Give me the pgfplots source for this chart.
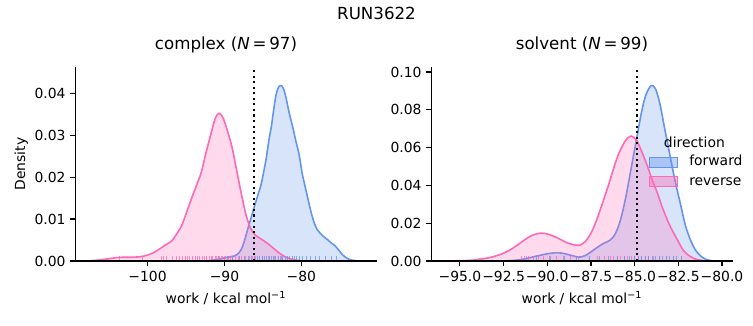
\documentclass[border=0pt]{standalone}
\usepackage{fontspec}
\setmainfont{DejaVu Sans}
\usepackage{pgfplots}
\pgfplotsset{compat=1.18}
\definecolor{fwd}{HTML}{6495ED}
\definecolor{rev}{HTML}{FF69B4}
\pgfplotsset{
  myaxis/.style={
    scale only axis, width=217pt, height=139.5pt,
    axis x line*=bottom, axis y line*=left,
    axis line style={-, line width=0.8pt},
    every tick/.style={black, line width=0.8pt},
    major tick length=3.5pt, tick align=outside,
    axis on top,
    ymin=0,
    font=\fontsize{10}{12}\selectfont,
    yticklabel style={/pgf/number format/fixed, /pgf/number format/fixed zerofill, /pgf/number format/precision=2, /pgf/number format/assume math mode=true},
    scaled y ticks=false,
    xlabel={work / kcal mol\textsuperscript{−1}},
    xlabel style={at={(axis description cs:0.5,-0.222)}, anchor=base},
    title style={at={(axis description cs:0.5,1)}, anchor=base, yshift=6.5pt, font=\fontsize{12}{14}\selectfont},
    clip=true,
  },
  kde/.style={smooth, tension=0.5, line width=1.15pt, draw=#1, fill=#1, fill opacity=0.25, draw opacity=1},
  rug/.style={ycomb, mark=none, draw=#1, line width=0.7pt, opacity=0.75},
}
\begin{document}
\begin{tikzpicture}
\useasboundingbox (0,0) rectangle (542.16pt,234pt);
\node[font=\fontsize{12}{14}\selectfont] at (271.08pt,224.6pt) {RUN3622};

% ---------------- complex ----------------
\begin{axis}[myaxis, at={(54.2pt,46.1pt)}, anchor=south west,
  xmin=-109.4, xmax=-70.2, ymax=0.0462,
  xtick={-100,-90,-80}, xticklabels={−100,−90,−80},
  ytick={0,0.01,0.02,0.03,0.04},
  ylabel={Density},
  ylabel style={at={(axis description cs:-0.179,0.5)}, anchor=center},
  title={complex (\textit{N}\,=\,97)}]
\addplot[kde=fwd] coordinates {
(-92.5,0) (-91.5,0.0002) (-90.5,0.0005) (-89.6,0.0009) (-88.7,0.0012) (-88.2,0.0018)
(-87.8,0.0028) (-87.4,0.0048) (-87.0,0.0074) (-86.5,0.0105) (-86.1,0.013) (-85.6,0.016)
(-85.2,0.0185) (-84.6,0.0241) (-84.2,0.029) (-83.9,0.032) (-83.6,0.036) (-83.3,0.0395)
(-82.95,0.0415) (-82.6,0.0418) (-82.3,0.041) (-82.0,0.039) (-81.6,0.0355) (-81.1,0.0318)
(-80.7,0.0285) (-80.3,0.0255) (-79.9,0.021) (-79.6,0.0185) (-79.1,0.0145) (-78.7,0.0114)
(-78.3,0.009) (-77.9,0.0074) (-77.2,0.006) (-76.6,0.0051) (-76.1,0.0043) (-75.6,0.0036)
(-75.1,0.0025) (-74.6,0.0014) (-74.0,0.0006) (-73.4,0.0002) (-72.6,0)
} \closedcycle;
\addplot[kde=rev] coordinates {
(-107.8,0) (-106.5,0.0002) (-105.2,0.0005) (-104,0.0008) (-103,0.0009) (-102,0.0009)
(-101,0.001) (-100.2,0.0013) (-99.3,0.0019) (-98.5,0.0028) (-97.6,0.0039) (-96.9,0.0047)
(-96.3,0.0062) (-95.6,0.0083) (-95.0,0.0112) (-94.3,0.0148) (-93.6,0.0182) (-93.0,0.0212)
(-92.4,0.0258) (-91.8,0.030) (-91.2,0.0340) (-90.7,0.0352) (-90.2,0.0342) (-89.6,0.031)
(-89.0,0.027) (-88.4,0.0215) (-87.8,0.016) (-87.2,0.011) (-86.6,0.0078) (-86.0,0.0062)
(-85.2,0.0052) (-84.4,0.0042) (-83.6,0.0030) (-82.8,0.0018) (-82.0,0.0009) (-81.0,0.0003)
(-79.8,0)
} \closedcycle;
\addplot[rug=rev] coordinates {
(-103.6,0.00115) (-100.6,0.00115) (-98.2,0.00115) (-97.9,0.00115) (-97.5,0.00115) (-96.8,0.00115)
(-96.3,0.00115) (-95.9,0.00115) (-95.5,0.00115) (-95.1,0.00115) (-94.8,0.00115) (-94.5,0.00115)
(-94.1,0.00115) (-93.8,0.00115) (-93.5,0.00115) (-93.2,0.00115) (-92.9,0.00115) (-92.6,0.00115)
(-92.3,0.00115) (-92.0,0.00115) (-91.7,0.00115) (-91.5,0.00115) (-91.2,0.00115) (-91.0,0.00115)
(-90.8,0.00115) (-90.6,0.00115) (-90.4,0.00115) (-90.2,0.00115) (-90.0,0.00115) (-89.8,0.00115)
(-89.5,0.00115) (-89.2,0.00115) (-88.9,0.00115) (-88.6,0.00115) (-88.2,0.00115) (-87.8,0.00115)
(-87.3,0.00115) (-86.8,0.00115) (-86.4,0.00115) (-85.9,0.00115) (-85.1,0.00115) (-84.3,0.00115)
(-83.5,0.00115) (-82.6,0.00115) (-81.8,0.00115)
};
\addplot[rug=fwd] coordinates {
(-90.8,0.00115) (-89.6,0.00115) (-88.9,0.00115) (-88.1,0.00115) (-87.4,0.00115) (-86.9,0.00115)
(-86.5,0.00115) (-86.1,0.00115) (-85.7,0.00115) (-85.4,0.00115) (-85.1,0.00115) (-84.8,0.00115)
(-84.5,0.00115) (-84.2,0.00115) (-83.9,0.00115) (-83.6,0.00115) (-83.3,0.00115) (-83.0,0.00115)
(-82.7,0.00115) (-82.4,0.00115) (-82.1,0.00115) (-81.8,0.00115) (-81.5,0.00115) (-81.2,0.00115)
(-80.9,0.00115) (-80.6,0.00115) (-80.2,0.00115) (-79.8,0.00115) (-79.3,0.00115) (-78.8,0.00115)
(-78.2,0.00115) (-77.6,0.00115) (-76.9,0.00115) (-76.1,0.00115) (-75.4,0.00115)
};
\addplot[black, line width=1.5pt, dash pattern=on 1.5pt off 2.5pt] coordinates {(-86.2,0) (-86.2,0.0462)};
\end{axis}

% ---------------- solvent ----------------
\begin{axis}[myaxis, at={(310.5pt,46.1pt)}, anchor=south west,
  xmin=-96.64, xmax=-79.39, ymax=0.1025,
  xtick={-95,-92.5,-90,-87.5,-85,-82.5,-80},
  xticklabels={−95.0,−92.5,−90.0,−87.5,−85.0,−82.5,−80.0},
  ytick={0,0.02,0.04,0.06,0.08,0.10},
  title={solvent (\textit{N}\,=\,99)},
  legend style={draw=none, fill=none, at={(axis description cs:0.722,0.459)}, anchor=west,
    inner xsep=0pt, inner ysep=0pt, row sep=4.4pt,
    nodes={inner sep=0pt, text height=7.3pt, text depth=2.2pt, anchor=west},
    /tikz/every odd column/.append style={column sep=8.4pt}},
  legend image code/.code={\draw[#1, line width=0.8pt, fill opacity=0.4] (0pt,-3.6pt) rectangle (19.7pt,3.6pt);},
  ]
\addplot[kde=fwd] coordinates {
(-92.5,0) (-91.8,0.0004) (-91.2,0.0013) (-90.8,0.0022) (-90.4,0.003) (-90.0,0.0038)
(-89.6,0.0043) (-89.2,0.0042) (-88.8,0.0034) (-88.4,0.0024) (-88.1,0.0021) (-87.8,0.003)
(-87.5,0.0048) (-87.2,0.0068) (-86.8,0.0092) (-86.4,0.011) (-86.1,0.0145) (-85.8,0.022)
(-85.5,0.034) (-85.2,0.049) (-84.9,0.064) (-84.6,0.079) (-84.35,0.088) (-84.05,0.0928)
(-83.8,0.091) (-83.55,0.083) (-83.3,0.071) (-83.0,0.057) (-82.7,0.043) (-82.4,0.031)
(-82.1,0.019) (-81.8,0.011) (-81.5,0.0055) (-81.2,0.0025) (-80.9,0.0008) (-80.5,0)
} \closedcycle;
\addlegendentry{forward}
\addplot[kde=rev] coordinates {
(-95.8,0) (-94.5,0.0003) (-93.9,0.0009) (-93.3,0.0018) (-92.7,0.0034) (-92.2,0.0055)
(-91.8,0.0078) (-91.2,0.0118) (-90.8,0.0138) (-90.4,0.0147) (-90.0,0.0143) (-89.6,0.0130)
(-89.2,0.0112) (-88.8,0.0094) (-88.4,0.0084) (-88.1,0.0085) (-87.8,0.0105) (-87.5,0.0147)
(-87.2,0.021) (-86.9,0.029) (-86.5,0.040) (-86.1,0.052) (-85.8,0.059) (-85.5,0.064)
(-85.2,0.0661) (-84.9,0.064) (-84.6,0.058) (-84.3,0.051) (-84.0,0.043) (-83.7,0.036)
(-83.4,0.028) (-83.0,0.019) (-82.6,0.012) (-82.2,0.0055) (-81.8,0.0023) (-81.4,0.0007)
(-80.9,0)
} \closedcycle;
\addlegendentry{reverse}
\addplot[rug=rev, forget plot] coordinates {
(-91.5,0.0025) (-91.3,0.0025) (-91.1,0.0025) (-90.8,0.0025) (-90.5,0.0025) (-90.2,0.0025)
(-89.9,0.0025) (-89.5,0.0025) (-89.1,0.0025) (-88.7,0.0025) (-88.2,0.0025) (-87.6,0.0025)
(-87.1,0.0025) (-86.7,0.0025) (-86.4,0.0025) (-86.2,0.0025) (-86.0,0.0025) (-85.8,0.0025)
(-85.6,0.0025) (-85.4,0.0025) (-85.2,0.0025) (-85.0,0.0025) (-84.8,0.0025) (-84.6,0.0025)
(-84.4,0.0025) (-84.2,0.0025) (-83.9,0.0025) (-83.6,0.0025) (-83.2,0.0025) (-82.8,0.0025)
};
\addplot[rug=fwd, forget plot] coordinates {
(-91.2,0.0025) (-90.6,0.0025) (-89.8,0.0025) (-89.0,0.0025) (-88.3,0.0025) (-87.6,0.0025)
(-87.0,0.0025) (-86.5,0.0025) (-86.0,0.0025) (-85.6,0.0025) (-85.3,0.0025) (-85.0,0.0025)
(-84.8,0.0025) (-84.6,0.0025) (-84.4,0.0025) (-84.2,0.0025) (-84.0,0.0025) (-83.8,0.0025)
(-83.6,0.0025) (-83.4,0.0025) (-83.2,0.0025) (-83.0,0.0025) (-82.8,0.0025) (-82.6,0.0025)
(-82.3,0.0025)
};
\addplot[forget plot, black, line width=1.5pt, dash pattern=on 1.5pt off 2.5pt] coordinates {(-84.87,0) (-84.87,0.1025)};
\node[font=\fontsize{10}{12}\selectfont, anchor=center] at (axis description cs:0.873,0.614) {direction};
\end{axis}
\end{tikzpicture}
\end{document}
